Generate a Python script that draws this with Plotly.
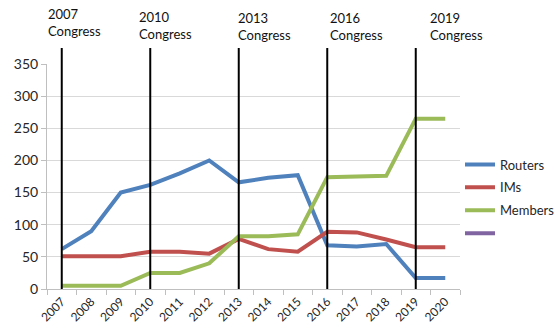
import plotly.graph_objects as go

years = ["2007", "2008", "2009", "2010", "2011", "2012", "2013",
         "2014", "2015", "2016", "2017", "2018", "2019", "2020"]
routers = [62, 90, 150, 162, 180, 200, 166, 173, 177, 68, 66, 70, 17, 17]
ims = [51, 51, 51, 58, 58, 55, 78, 62, 58, 89, 88, 77, 65, 65]
members = [5, 5, 5, 25, 25, 40, 82, 82, 85, 174, 175, 176, 265, 265]
congress_years = ["2007", "2010", "2013", "2016", "2019"]
congress_labels = ["2007<br>Congress", "2010<br>Congress", "2013<br>Congress",
                   "2016<br>Congress", "2019<br>Congress"]

# label offsets (px) relative to the congress line
label_xshift = [-16, -13, -3, 1, 12]
label_yshift = [-1, -4, -5, -5, -5]

FONT = "Lato"
TXT = "#262626"

fig = go.Figure()
series = [("Routers", routers, "#4F81BD"),
          ("IMs", ims, "#C0504D"),
          ("Members", members, "#9BBB59")]
for name, vals, col in series:
    fig.add_trace(go.Scatter(x=years, y=vals, mode="lines", name=name, legendgroup=name,
                             line=dict(color=col, width=4)))
fig.add_trace(go.Scatter(x=years, y=[None] * len(years), mode="lines", name=" ",
                         legendgroup="blank", line=dict(color="#8064A2", width=4)))

for yr in congress_years:
    xi = years.index(yr)
    fig.add_shape(type="line", xref="x", yref="paper", x0=xi, x1=xi,
                  y0=0, y1=1.071, line=dict(color="black", width=2), layer="above")

for yr, lab, xs, ys in zip(congress_years, congress_labels, label_xshift, label_yshift):
    fig.add_annotation(x=years.index(yr), xref="x", y=1.271, yref="paper", text=lab,
                       showarrow=False, xanchor="left", yanchor="top", align="left",
                       xshift=xs, yshift=ys, font=dict(family=FONT, size=13, color="#111111"))

fig.update_layout(
    width=558, height=336,
    margin=dict(l=47, r=98, t=64, b=47, autoexpand=False),
    paper_bgcolor="white", plot_bgcolor="white",
    font=dict(family=FONT, size=13, color=TXT),
    showlegend=True,
    legend=dict(x=1.0, xanchor="left", y=0.62, yanchor="top",
                font=dict(family=FONT, size=13, color=TXT),
                bgcolor="rgba(0,0,0,0)", tracegroupgap=3),
    xaxis=dict(type="category", range=[-0.5, len(years) - 0.5],
               tickangle=-45, tickson="boundaries",
               ticks="outside", ticklen=5, tickcolor="#bfbfbf",
               showline=True, linecolor="#bfbfbf", linewidth=1,
               showgrid=False, tickfont=dict(family=FONT, size=12, color=TXT)),
    yaxis=dict(range=[0, 350], dtick=50, ticks="outside", ticklen=5,
               tickcolor="#bfbfbf", showline=True, linecolor="#bfbfbf",
               gridcolor="#d9d9d9", zeroline=False,
               tickfont=dict(family=FONT, size=14, color=TXT)),
)

fig.write_html("out.html")
